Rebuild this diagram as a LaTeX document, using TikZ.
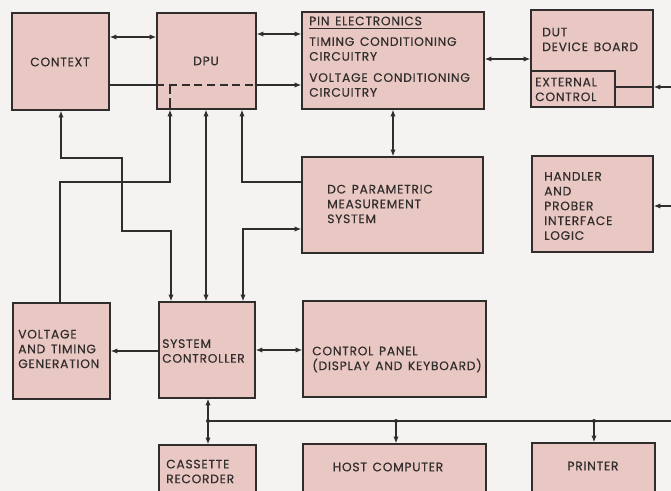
\documentclass[tikz,border=0pt]{standalone}
\usepackage{fontspec}
\setmainfont{Poppins}
\newfontfamily\boxfont{Poppins}[LetterSpace=6,FakeBold=0.4,WordSpace=1.4]
\usetikzlibrary{arrows.meta,fit}
\begin{document}
\begin{tikzpicture}[x=0.75pt, y=-0.75pt, >={Latex[length=5pt,width=4pt]},
  blk/.style={draw=lineK, line width=1.2pt, fill=boxP, inner sep=0pt},
  lbl/.style={anchor=west, align=left, inner sep=0pt, text=lineK,
    font=\boxfont\fontsize{9.2}{11.1}\selectfont},
  wire/.style={draw=lineK, line width=0.8pt}]
\definecolor{boxP}{RGB}{233,200,195}
\definecolor{paperW}{RGB}{244,243,241}
\definecolor{lineK}{RGB}{50,45,45}
% ---- page ----
\clip (0,0) rectangle (671,491);
\fill[paperW] (0,0) rectangle (671,491);
% ---- blocks ----
\node[blk, fit={(12,13) (109,110)}] (ctx) {};
\node[blk, fit={(157,13) (256,109)}] (dpu) {};
\node[blk, fit={(302,12) (484,109)}] (pin) {};
\node[blk, fit={(531,10) (653,107)}] (dut) {};
\node[blk, fit={(531,71) (615,107)}] (ext) {};
\node[blk, fit={(302,157) (483,253)}] (dcp) {};
\node[blk, fit={(532,156) (653,252)}] (hpi) {};
\node[blk, fit={(13,303) (110,399)}] (vtg) {};
\node[blk, fit={(159,302) (255,398)}] (sysc) {};
\node[blk, fit={(303,301) (486,397)}] (cpan) {};
\node[blk, fit={(159,445) (256,530)}] (cas) {};
\node[blk, fit={(303,444) (486,530)}] (host) {};
\node[blk, fit={(532,443) (655,530)}] (prn) {};
% ---- texts ----
\node[lbl, anchor=center] at (60,62) {CONTEXT};
\node[lbl, anchor=center] at (206,61) {DPU};
\node[lbl] (pinhd) at (309,21) {PIN ELECTRONICS};
\draw[wire] ([yshift=-2.2pt]pinhd.base west) -- ([yshift=-2.2pt]pinhd.base east);
\node[lbl] at (309,49) {TIMING CONDITIONING\\CIRCUITRY};
\node[lbl] at (309,85) {VOLTAGE CONDITIONING\\CIRCUITRY};
\node[lbl] at (542,39.5) {DUT\\DEVICE BOARD};
\node[lbl] at (535,89.5) {EXTERNAL\\CONTROL};
\node[lbl] at (327,204) {DC PARAMETRIC\\MEASUREMENT\\SYSTEM};
\node[lbl] at (544,206) {HANDLER\\AND\\PROBER\\INTERFACE\\LOGIC};
\node[lbl] at (18,349) {VOLTAGE\\AND TIMING\\GENERATION};
\node[lbl] at (162,351) {SYSTEM\\CONTROLLER};
\node[lbl] at (312,359.5) {CONTROL PANEL\\(DISPLAY AND KEYBOARD)};
\node[lbl] at (166,471.5) {CASSETTE\\RECORDER};
\node[lbl, anchor=center] at (388,467) {HOST COMPUTER};
\node[lbl, anchor=center] at (593,466) {PRINTER};
% ---- top row links ----
\draw[wire, <->] (ctx.east |- 0,37) -- (dpu.west |- 0,37);
\draw[wire, <->] (dpu.east |- 0,34) -- (pin.west |- 0,34);
\draw[wire] (ctx.east |- 0,85) -- (dpu.west |- 0,85);
\draw[wire, dashed, dash pattern=on 6pt off 3.5pt] (dpu.west |- 0,85) -- (dpu.east |- 0,85);
\draw[wire, ->] (dpu.east |- 0,85) -- (pin.west |- 0,85);
\draw[wire, dashed, dash pattern=on 7pt off 3pt] (170,85) -- (dpu.south -| 170,0);
\draw[wire, <->] (pin.east |- 0,59) -- (dut.west |- 0,59);
% ---- outside inputs ----
\coordinate (extin) at (671,87);
\coordinate (hpiin) at (671,206);
\draw[wire, ->] (extin) -- (dut.east |- extin);
\draw[wire] (dut.east |- extin) -- (ext.east |- extin);
\draw[wire, ->] (hpiin) -- (hpi.east |- hpiin);
% ---- middle wiring ----
\draw[wire, <->] (pin.south -| 393,0) -- (dcp.north -| 393,0);
\draw[wire, <->] (ctx.south -| 61,0) -- (61,158) -- (122,158) -- (122,231)
  -- (171,231) -- (sysc.north -| 171,0);
\draw[wire, ->] (vtg.north -| 60,0) -- (60,182) -- (170,182) -- (dpu.south -| 170,0);
\draw[wire, <->] (dpu.south -| 206,0) -- (sysc.north -| 206,0);
\draw[wire, ->] (dcp.west |- 0,182) -- (242,182) -- (dpu.south -| 242,0);
\draw[wire, <->] (sysc.north -| 243,0) -- (243,229) -- (dcp.west |- 0,229);
% ---- lower row links ----
\draw[wire, ->] (sysc.west |- 0,351) -- (vtg.east |- 0,351);
\draw[wire, <->] (sysc.east |- 0,350) -- (cpan.west |- 0,350);
\draw[wire, <->] (sysc.south -| 208,0) -- (cas.north -| 208,0);
% ---- bus ----
\coordinate (jsys) at (208,421);
\coordinate (jhost) at (396,421);
\coordinate (jprn) at (594,421);
\coordinate (busend) at (671,421);
\draw[wire] (jsys) -- (busend);
\draw[wire, ->] (jhost) -- (host.north -| jhost);
\draw[wire, ->] (jprn) -- (prn.north -| jprn);
\foreach \j in {jsys,jhost,jprn}
  \fill[lineK] (\j) circle (1.5pt);
\end{tikzpicture}
\end{document}
